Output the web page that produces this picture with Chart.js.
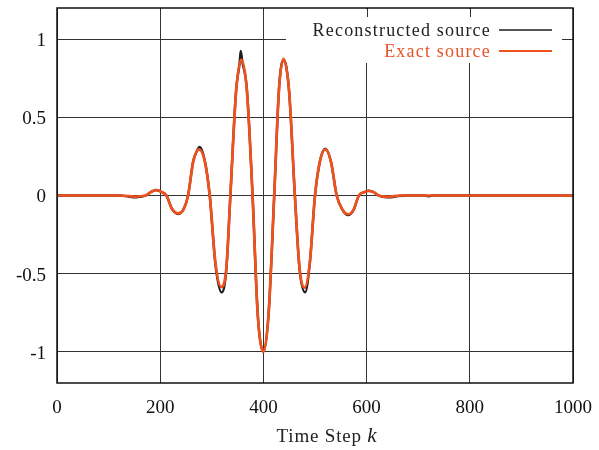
<!DOCTYPE html>
<html><head><meta charset="utf-8">
<script src="https://cdn.jsdelivr.net/npm/chart.js@4"></script>
<style>html,body{margin:0;padding:0;background:#fff}#wrap{width:599px;height:450px;position:relative}</style>
</head><body><div id="wrap"><canvas id="c" width="599" height="450"></canvas></div>
<script>
const exactSteps = [0,120,140,152,165,172,182,192,202,212,223,235,245,254,264,275,286,296,307,318,328,336,347,357,368,379,389,400,410,421,430,439,450,461,470,480,490,500,510,520,531,542,553,564,575,585,595,604,614,623,642,665,1000];
const exactValues = [0,0,-0.004,-0.008,-0.003,0,0.022,0.034,0.024,0,-0.085,-0.115,-0.09,0,0.215,0.295,0.225,0,-0.43,-0.585,-0.47,0,0.66,0.87,0.67,0,-0.76,-1.0,-0.76,0,0.67,0.875,0.66,0,-0.46,-0.59,-0.43,0,0.225,0.295,0.215,0,-0.09,-0.12,-0.09,0,0.021,0.03,0.021,0,-0.008,0,0];
const reconSteps = [0,120,138,150,160,172,182,192,202,212,223,235,245,254,264,272,276,286,296,307,319,328,336,347,354,356,359,368,379,389,400,410,421,430,436,440,444,450,461,470,481,490,500,510,520,531,542,553,564,575,585,595,604,614,623,635,648,660,680,712,720,730,1000];
const reconValues = [0,0,-0.006,-0.012,-0.008,0,0.022,0.035,0.024,0,-0.087,-0.118,-0.09,0,0.22,0.29,0.31,0.23,0,-0.44,-0.62,-0.48,0,0.67,0.85,0.925,0.86,0.68,0,-0.76,-1.0,-0.76,0,0.67,0.85,0.865,0.83,0.66,0,-0.47,-0.62,-0.43,0,0.225,0.3,0.215,0,-0.09,-0.125,-0.09,0,0.021,0.03,0.021,0,-0.01,-0.012,-0.004,0,0,-0.005,0,0];
const xTickValues = [0,200,400,600,800,1000];
const yTickValues = [-1,-0.5,0,0.5,1];
const seriesNames = ['Reconstructed source','Exact source'];
const axisTitleMain = 'Time Step ';
const axisTitleVar = 'k';

const FONT = '"Liberation Serif", "Times New Roman", serif';
const BLACK = '#1c1c1c';
const ORANGE = '#f0521e';

const toXY = (xs, ys) => xs.map((x, i) => ({x: x, y: ys[i]}));

const overlay = {
  id: 'overlay',
  beforeDatasetsDraw(chart) {
    const ctx = chart.ctx, a = chart.chartArea;
    ctx.save();
    ctx.fillStyle = '#fff';
    ctx.fillRect(286, a.top + 1, a.right - 1 - 286, 62 - a.top);
    ctx.strokeStyle = '#333';
    ctx.lineWidth = 1;
    [600, 800].forEach(v => {
      const px = Math.round(chart.scales.x.getPixelForValue(v)) + 0.5;
      ctx.beginPath(); ctx.moveTo(px, a.top); ctx.lineTo(px, a.top + 9); ctx.stroke();
    });
    const py = Math.round(chart.scales.y.getPixelForValue(1)) + 0.5;
    ctx.beginPath(); ctx.moveTo(a.right - 11, py); ctx.lineTo(a.right, py); ctx.stroke();
    ctx.restore();
  },
  afterDraw(chart) {
    const ctx = chart.ctx, a = chart.chartArea;
    ctx.save();
    ctx.strokeStyle = '#111';
    ctx.lineWidth = 1.5;
    ctx.strokeRect(a.left, a.top, a.right - a.left, a.bottom - a.top);
    // legend
    ctx.font = '18px ' + FONT;
    ctx.letterSpacing = '1.2px';
    ctx.textAlign = 'right';
    ctx.textBaseline = 'middle';
    ctx.fillStyle = '#222';
    ctx.fillText(seriesNames[0], 491, 31);
    ctx.fillStyle = '#e8542a';
    ctx.fillText(seriesNames[1], 491, 52);
    ctx.lineWidth = 1.6;
    ctx.strokeStyle = BLACK;
    ctx.beginPath(); ctx.moveTo(499, 30); ctx.lineTo(552, 30); ctx.stroke();
    ctx.lineWidth = 2;
    ctx.strokeStyle = ORANGE;
    ctx.beginPath(); ctx.moveTo(499, 51); ctx.lineTo(552, 51); ctx.stroke();
    // axis title
    ctx.letterSpacing = '0.8px';
    ctx.textAlign = 'left';
    ctx.textBaseline = 'alphabetic';
    ctx.fillStyle = '#222';
    const f1 = '19px ' + FONT, f2 = 'italic 21px ' + FONT;
    ctx.font = f1; const w1 = ctx.measureText(axisTitleMain).width;
    ctx.font = f2; const w2 = ctx.measureText(axisTitleVar).width;
    const x0 = 327 - (w1 + w2) / 2;
    ctx.font = f1; ctx.fillText(axisTitleMain, x0, 442);
    ctx.font = f2; ctx.fillText(axisTitleVar, x0 + w1, 442);
    ctx.restore();
  }
};

new Chart(document.getElementById('c'), {
  type: 'line',
  data: {
    datasets: [
      {label: seriesNames[0], data: toXY(reconSteps, reconValues), borderColor: BLACK, borderWidth: 2.4,
       pointRadius: 0, fill: false, cubicInterpolationMode: 'monotone', order: 1},
      {label: seriesNames[1], data: toXY(exactSteps, exactValues), borderColor: ORANGE, borderWidth: 2.7,
       pointRadius: 0, fill: false, cubicInterpolationMode: 'monotone', order: 0}
    ]
  },
  options: {
    responsive: false,
    animation: false,
    devicePixelRatio: 1,
    layout: {padding: {left: 0, top: 8, right: 26, bottom: 0}},
    plugins: {legend: {display: false}, tooltip: {enabled: false}},
    scales: {
      x: {
        type: 'linear', min: 0, max: 1000,
        afterBuildTicks: s => { s.ticks = xTickValues.map(v => ({value: v})); },
        afterFit: s => { s.height = 67; s.paddingLeft = 0; s.paddingRight = 0; },
        grid: {color: '#333', lineWidth: 1, drawTicks: false},
        border: {display: false},
        ticks: {font: {family: FONT, size: 19}, color: '#111', padding: 14, maxRotation: 0, autoSkip: false,
                callback: v => String(v)}
      },
      y: {
        type: 'linear', min: -1.2, max: 1.2,
        afterBuildTicks: s => { s.ticks = yTickValues.map(v => ({value: v})); },
        afterFit: s => { s.width = 57; s.paddingTop = 0; s.paddingBottom = 0; },
        grid: {color: '#333', lineWidth: 1, drawTicks: false},
        border: {display: false},
        ticks: {font: {family: FONT, size: 19}, color: '#111', padding: 11, labelOffset: 2,
                callback: v => String(v)}
      }
    }
  },
  plugins: [overlay]
});
</script>
</body></html>
